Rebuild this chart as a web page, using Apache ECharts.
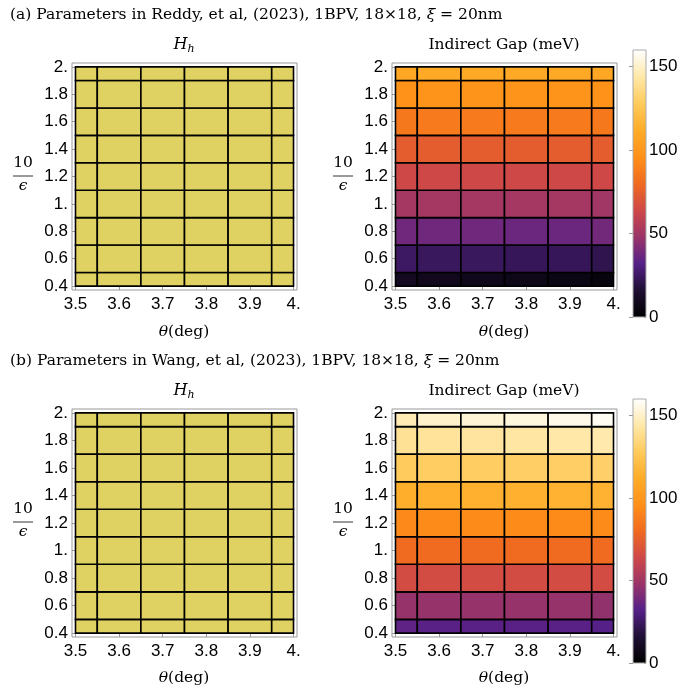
<!DOCTYPE html>
<html><head><meta charset="utf-8">
<script src="https://cdn.jsdelivr.net/npm/echarts@6/dist/echarts.min.js"></script>
<style>html,body{margin:0;padding:0;background:#fff}#c{width:683px;height:692px}</style>
</head><body><div id="c"></div>
<script>
// ---- data ----
const thetaDeg = [3.5, 3.6, 3.7, 3.8, 3.9, 4.0];
const invEps = [0.4, 0.6, 0.8, 1.0, 1.2, 1.4, 1.6, 1.8, 2.0];
const xTickValues = [3.5, 3.6, 3.7, 3.8, 3.9, 4.0];
const yTickValues = [0.4, 0.6, 0.8, 1.0, 1.2, 1.4, 1.6, 1.8, 2.0];
const colorbarTicks = [0, 50, 100, 150];
const colorbarMinorTicks = [0, 10, 20, 30, 40, 50, 60, 70, 80, 90, 100, 110, 120, 130, 140, 150];
// rows follow invEps (0.4 -> 2.0), columns follow thetaDeg
const hhA = [
  [1, 1, 1, 1, 1, 1], [1, 1, 1, 1, 1, 1], [1, 1, 1, 1, 1, 1],
  [1, 1, 1, 1, 1, 1], [1, 1, 1, 1, 1, 1], [1, 1, 1, 1, 1, 1],
  [1, 1, 1, 1, 1, 1], [1, 1, 1, 1, 1, 1], [1, 1, 1, 1, 1, 1]
];
const hhB = [
  [1, 1, 1, 1, 1, 1], [1, 1, 1, 1, 1, 1], [1, 1, 1, 1, 1, 1],
  [1, 1, 1, 1, 1, 1], [1, 1, 1, 1, 1, 1], [1, 1, 1, 1, 1, 1],
  [1, 1, 1, 1, 1, 1], [1, 1, 1, 1, 1, 1], [1, 1, 1, 1, 1, 1]
];
const gapA = [
  [10, 9, 8, 7, 6, 4],
  [25, 24, 24, 23, 23, 21],
  [38, 38, 38, 37, 37, 39],
  [51, 51, 51, 51, 51, 50],
  [64, 64, 64, 64, 64, 64],
  [74, 74, 74, 74, 74, 74],
  [86, 87, 87, 87, 87, 86],
  [97, 98, 98, 98, 98, 97],
  [109, 110, 110, 110, 110, 109]
];
const gapB = [
  [34, 33, 33, 33, 33, 32],
  [47, 47, 47, 47, 47, 46],
  [66, 66, 66, 66, 66, 66],
  [80, 80, 80, 80, 80, 80],
  [93, 94, 94, 94, 94, 94],
  [113, 114, 114, 114, 115, 115],
  [128, 129, 129, 130, 130, 131],
  [140, 141, 142, 143, 144, 145],
  [146, 150, 152, 154, 156, 158]
];
const gapMin = 0, gapMax = 160;

// ---- style ----
const sunsetColors = ['#000000', '#1e0f34', '#552088', '#9a3468', '#cf4848', '#f06a20',
  '#ff9018', '#ffac28', '#ffcb5c', '#ffe8a8', '#ffffff'];
const hhColor = '#e0d262';
const frameColor = '#999999';
const serif = '"DejaVu Serif", serif';
const sans = '"Liberation Sans", Arial, sans-serif';

function toTriples(grid) {
  const out = [];
  grid.forEach((row, j) => row.forEach((v, i) => out.push([thetaDeg[i], invEps[j], v])));
  return out;
}
function edges(vals, k) {
  const lo = k === 0 ? vals[0] : (vals[k - 1] + vals[k]) / 2;
  const hi = k === vals.length - 1 ? vals[k] : (vals[k] + vals[k + 1]) / 2;
  return [lo, hi];
}
function renderCell(params, api) {
  const x = api.value(0), y = api.value(1);
  const i = thetaDeg.indexOf(x), j = invEps.indexOf(y);
  const ex = edges(thetaDeg, i), ey = edges(invEps, j);
  const p0 = api.coord([ex[0], ey[1]]);
  const p1 = api.coord([ex[1], ey[0]]);
  return {
    type: 'rect',
    shape: { x: p0[0], y: p0[1], width: p1[0] - p0[0], height: p1[1] - p0[1] },
    style: { fill: api.visual('color'), stroke: '#000', lineWidth: 1.6 }
  };
}
function renderBar(params, api) {
  const p0 = api.coord([0, gapMax]);
  const p1 = api.coord([1, gapMin]);
  const stops = sunsetColors.map((c, k) => ({ offset: k / (sunsetColors.length - 1), color: c }));
  return {
    type: 'rect',
    shape: { x: p0[0], y: p0[1], width: p1[0] - p0[0], height: p1[1] - p0[1] },
    style: { fill: new echarts.graphic.LinearGradient(0, 1, 0, 0, stops) }
  };
}
function fmt(v) {
  return Math.abs(v - Math.round(v)) < 1e-9 ? Math.round(v) + '.' : v.toFixed(1);
}

const panelGrids = [
  { left: 72, top: 63, width: 225, height: 227 },
  { left: 392, top: 63, width: 225, height: 227 },
  { left: 72, top: 409, width: 225, height: 228 },
  { left: 392, top: 409, width: 225, height: 228 }
];
const barGrids = [
  { left: 633, top: 50, width: 13, height: 267 },
  { left: 633, top: 399, width: 13, height: 264 }
];

const grid = [], xAxis = [], yAxis = [], series = [];
panelGrids.forEach((g, k) => {
  grid.push(Object.assign({ show: true, borderColor: frameColor, borderWidth: 1, backgroundColor: 'transparent' }, g));
  xAxis.push({
    type: 'value', gridIndex: k, min: 3.492, max: 4.008,
    axisLine: { show: false }, splitLine: { show: false },
    axisTick: { show: true, inside: true, length: 4, lineStyle: { color: frameColor }, customValues: xTickValues },
    axisLabel: { customValues: xTickValues, formatter: fmt, fontFamily: sans, fontSize: 17, color: '#000', margin: 6 }
  });
  yAxis.push({
    type: 'value', gridIndex: k, min: 0.372, max: 2.028,
    axisLine: { show: false }, splitLine: { show: false },
    axisTick: { show: true, inside: true, length: 4, lineStyle: { color: frameColor }, customValues: yTickValues },
    axisLabel: { customValues: yTickValues, formatter: fmt, fontFamily: sans, fontSize: 17, color: '#000', margin: 4 }
  });
});
barGrids.forEach((g, k) => {
  const gi = 4 + k;
  grid.push(Object.assign({ show: true, borderColor: '#aaaaaa', borderWidth: 1, backgroundColor: 'transparent', z: 10 }, g));
  xAxis.push({ type: 'value', gridIndex: gi, min: 0, max: 1, show: false });
  yAxis.push({
    type: 'value', gridIndex: gi, position: 'right', min: gapMin, max: gapMax,
    axisLine: { show: false }, splitLine: { show: false },
    axisTick: { show: true, inside: true, length: 4, lineStyle: { color: frameColor }, customValues: colorbarTicks },
    axisLabel: { customValues: colorbarTicks, fontFamily: sans, fontSize: 17, color: '#000', margin: 3 }
  });
  yAxis.push({
    type: 'value', gridIndex: gi, position: 'right', min: gapMin, max: gapMax,
    axisLine: { show: false }, splitLine: { show: false },
    axisTick: { show: true, inside: true, length: 2, lineStyle: { color: frameColor }, customValues: colorbarMinorTicks },
    axisLabel: { show: false }
  });
});

const panelData = [hhA, gapA, hhB, gapB];
panelData.forEach((d, k) => {
  series.push({
    type: 'custom', xAxisIndex: k, yAxisIndex: k,
    renderItem: renderCell, data: toTriples(d),
    encode: { x: 0, y: 1 }, silent: true
  });
});
// colorbars: yAxis indices 4,5 (grid 4) and 6,7 (grid 5)
series.push({ type: 'custom', xAxisIndex: 4, yAxisIndex: 4, renderItem: renderBar, data: [[0.5, gapMax]], silent: true, z: 1 });
series.push({ type: 'custom', xAxisIndex: 5, yAxisIndex: 6, renderItem: renderBar, data: [[0.5, gapMax]], silent: true, z: 1 });

const rich = {
  n: { fontFamily: serif, fontSize: 15.5, color: '#000' },
  i: { fontFamily: serif, fontSize: 15.5, fontStyle: 'italic', color: '#000' },
  H: { fontFamily: serif, fontSize: 16, fontStyle: 'italic', color: '#000' },
  s: { fontFamily: serif, fontSize: 11, fontStyle: 'italic', color: '#000', padding: [8, 0, 0, 0] }
};
function txt(x, y, text, align) {
  return { type: 'text', x: x, y: y, silent: true,
    style: { text: text, rich: rich, align: align || 'center', verticalAlign: 'middle', fill: '#000',
      fontFamily: serif, fontSize: 15.5 } };
}
const graphic = [];
[0, 346].forEach((dy, k) => {
  const who = k === 0 ? 'Reddy' : 'Wang';
  const lab = k === 0 ? '(a)' : '(b)';
  graphic.push(txt(10, 15 + dy, '{n|' + lab + ' Parameters in ' + who + ', et al, (2023), 1BPV, 18×18, }{i|ξ}{n| = 20nm}', 'left'));
  graphic.push(txt(184, 45 + dy, '{H|H}{s|h}'));
  graphic.push(txt(504, 45 + dy, '{n|Indirect Gap (meV)}'));
  graphic.push(txt(184, 332 + dy, '{i|θ}{n|(deg)}'));
  graphic.push(txt(504, 332 + dy, '{i|θ}{n|(deg)}'));
  graphic.push(txt(23, 163 + dy, '{n|10}'));
  graphic.push({ type: 'line', silent: true, shape: { x1: 13, y1: 176 + dy, x2: 33, y2: 176 + dy }, style: { stroke: '#000', lineWidth: 0.8 } });
  graphic.push(txt(23, 186 + dy, '{i|ϵ}'));
  graphic.push(txt(343, 163 + dy, '{n|10}'));
  graphic.push({ type: 'line', silent: true, shape: { x1: 333, y1: 176 + dy, x2: 353, y2: 176 + dy }, style: { stroke: '#000', lineWidth: 0.8 } });
  graphic.push(txt(343, 186 + dy, '{i|ϵ}'));
});

const chart = echarts.init(document.getElementById('c'), null, { renderer: 'canvas' });
chart.setOption({
  animation: false,
  backgroundColor: '#fff',
  grid: grid, xAxis: xAxis, yAxis: yAxis, series: series,
  visualMap: [
    { type: 'continuous', show: false, min: gapMin, max: gapMax, dimension: 2, seriesIndex: [1, 3],
      inRange: { color: sunsetColors } },
    { type: 'continuous', show: false, min: 0, max: 2, dimension: 2, seriesIndex: [0, 2],
      inRange: { color: [hhColor, hhColor] } }
  ],
  graphic: graphic
});
</script></body></html>
